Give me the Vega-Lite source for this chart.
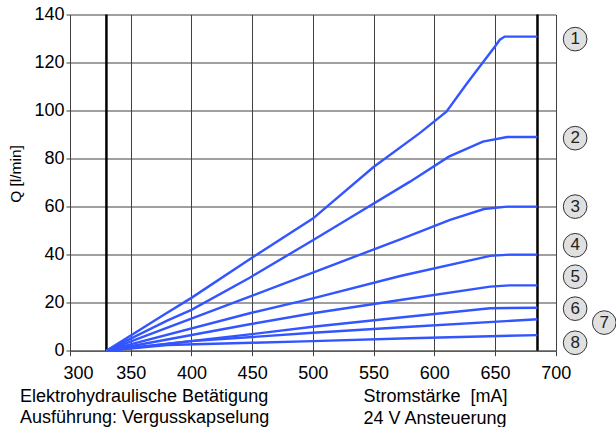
{
  "$schema": "https://vega.github.io/schema/vega-lite/v6.json",
  "width": 485.7,
  "height": 336.2,
  "autosize": {"type": "none"},
  "padding": {"left": 70, "top": 14.5, "right": 60.3, "bottom": 76.3},
  "background": "white",
  "config": {"font": "Liberation Sans", "view": {"stroke": null}},
  "datasets": {
    "curves": [
      {"curve": 1, "mA": 330, "Q": 0}, {"curve": 1, "mA": 378, "Q": 15.2}, {"curve": 1, "mA": 400, "Q": 22}, {"curve": 1, "mA": 448, "Q": 38.1}, {"curve": 1, "mA": 500, "Q": 55}, {"curve": 1, "mA": 550, "Q": 76.5}, {"curve": 1, "mA": 588, "Q": 90.6}, {"curve": 1, "mA": 610, "Q": 99.5}, {"curve": 1, "mA": 627, "Q": 111.4}, {"curve": 1, "mA": 650, "Q": 126.7}, {"curve": 1, "mA": 654, "Q": 129.5}, {"curve": 1, "mA": 658, "Q": 130.8}, {"curve": 1, "mA": 685, "Q": 130.8},
      {"curve": 2, "mA": 330, "Q": 0}, {"curve": 2, "mA": 380, "Q": 12.5}, {"curve": 2, "mA": 400, "Q": 17}, {"curve": 2, "mA": 448, "Q": 30.4}, {"curve": 2, "mA": 500, "Q": 46}, {"curve": 2, "mA": 528, "Q": 54.5}, {"curve": 2, "mA": 580, "Q": 70.4}, {"curve": 2, "mA": 612, "Q": 80.8}, {"curve": 2, "mA": 640, "Q": 87.1}, {"curve": 2, "mA": 660, "Q": 89}, {"curve": 2, "mA": 685, "Q": 89},
      {"curve": 3, "mA": 330, "Q": 0}, {"curve": 3, "mA": 448, "Q": 22.5}, {"curve": 3, "mA": 500, "Q": 32.5}, {"curve": 3, "mA": 572, "Q": 46.4}, {"curve": 3, "mA": 613, "Q": 54.5}, {"curve": 3, "mA": 641, "Q": 59}, {"curve": 3, "mA": 660, "Q": 60}, {"curve": 3, "mA": 685, "Q": 60},
      {"curve": 4, "mA": 330, "Q": 0}, {"curve": 4, "mA": 448, "Q": 15.6}, {"curve": 4, "mA": 500, "Q": 21.8}, {"curve": 4, "mA": 572, "Q": 31.1}, {"curve": 4, "mA": 646, "Q": 39.5}, {"curve": 4, "mA": 662, "Q": 40}, {"curve": 4, "mA": 685, "Q": 40},
      {"curve": 5, "mA": 330, "Q": 0}, {"curve": 5, "mA": 448, "Q": 11}, {"curve": 5, "mA": 500, "Q": 15.6}, {"curve": 5, "mA": 572, "Q": 21.1}, {"curve": 5, "mA": 646, "Q": 26.7}, {"curve": 5, "mA": 662, "Q": 27.2}, {"curve": 5, "mA": 685, "Q": 27.2},
      {"curve": 6, "mA": 330, "Q": 0}, {"curve": 6, "mA": 448, "Q": 6.8}, {"curve": 6, "mA": 500, "Q": 10}, {"curve": 6, "mA": 572, "Q": 13.8}, {"curve": 6, "mA": 646, "Q": 17.7}, {"curve": 6, "mA": 685, "Q": 17.9},
      {"curve": 7, "mA": 330, "Q": 0}, {"curve": 7, "mA": 400, "Q": 4}, {"curve": 7, "mA": 450, "Q": 5.7}, {"curve": 7, "mA": 500, "Q": 7.5}, {"curve": 7, "mA": 580, "Q": 10}, {"curve": 7, "mA": 685, "Q": 13.1},
      {"curve": 8, "mA": 330, "Q": 0}, {"curve": 8, "mA": 380, "Q": 2.4}, {"curve": 8, "mA": 450, "Q": 3.3}, {"curve": 8, "mA": 500, "Q": 4}, {"curve": 8, "mA": 580, "Q": 5.2}, {"curve": 8, "mA": 685, "Q": 6.5}
    ],
    "limits": [{"mA": 330}, {"mA": 685}],
    "labels": [
      {"id": "1", "mA": 716, "Q": 129.75},
      {"id": "2", "mA": 716, "Q": 88.5},
      {"id": "3", "mA": 716, "Q": 60},
      {"id": "4", "mA": 716, "Q": 43.9},
      {"id": "5", "mA": 716, "Q": 30.8},
      {"id": "6", "mA": 716, "Q": 17.5},
      {"id": "7", "mA": 740, "Q": 11.7},
      {"id": "8", "mA": 716, "Q": 3.3}
    ]
  },
  "title": {
    "text": ["Elektrohydraulische Betätigung", "Ausführung: Vergusskapselung"],
    "orient": "bottom",
    "anchor": "start",
    "frame": "group",
    "fontSize": 18,
    "fontWeight": "normal",
    "lineHeight": 21,
    "color": "black",
    "dx": -50,
    "offset": -39
  },
  "layer": [
    {
      "data": {"name": "limits"},
      "mark": {"type": "rule", "color": "black", "strokeWidth": 2.5},
      "encoding": {
        "x": {
          "field": "mA", "type": "quantitative",
          "scale": {"domain": [300, 700], "nice": false, "zero": false},
          "axis": {
            "values": [300, 350, 400, 450, 500, 550, 600, 650, 700],
            "grid": true, "gridColor": "#404040", "gridOpacity": 1, "gridWidth": 1,
            "domainColor": "#404040", "tickColor": "#404040", "tickSize": 5,
            "labelFontSize": 18, "labelColor": "black", "labelPadding": 9, "labelFlush": false,
            "labelOffset": {"condition": {"test": "datum.value == 300", "value": 8}, "value": 0},
            "title": ["Stromstärke \u00a0[mA]", "24 V Ansteuerung"],
            "titleFontSize": 18, "titleFontWeight": "normal", "titleColor": "black",
            "titleX": 293, "titleY": 51, "titleAlign": "left", "titleBaseline": "alphabetic",
            "titleLineHeight": 21.5
          }
        }
      }
    },
    {
      "data": {"name": "curves"},
      "mark": {"type": "line", "color": "#3355ff", "strokeWidth": 2.4, "clip": false},
      "encoding": {
        "x": {"field": "mA", "type": "quantitative"},
        "y": {
          "field": "Q", "type": "quantitative",
          "scale": {"domain": [0, 140], "nice": false},
          "axis": {
            "values": [0, 20, 40, 60, 80, 100, 120, 140],
            "grid": true, "gridColor": "#404040", "gridOpacity": 1, "gridWidth": 1,
            "domainColor": "#404040", "tickColor": "#404040", "tickSize": 4,
            "labelFontSize": 18, "labelColor": "black", "labelPadding": 2, "labelFlush": false,
            "title": "Q [l/min]", "titleFontSize": 15.5, "titleFontWeight": "normal", "titleColor": "black",
            "titleX": -55, "titleY": 159, "titleAlign": "center", "titleBaseline": "middle"
          }
        },
        "detail": {"field": "curve", "type": "nominal"}
      }
    },
    {
      "data": {"name": "labels"},
      "mark": {"type": "point", "shape": "circle", "filled": true, "size": 560, "fill": "#e0e0e0", "stroke": "#333333", "strokeWidth": 1, "opacity": 1, "clip": false},
      "encoding": {
        "x": {"field": "mA", "type": "quantitative"},
        "y": {"field": "Q", "type": "quantitative"}
      }
    },
    {
      "data": {"name": "labels"},
      "mark": {"type": "text", "fontSize": 17, "color": "#222222", "baseline": "middle", "align": "center", "clip": false},
      "encoding": {
        "x": {"field": "mA", "type": "quantitative"},
        "y": {"field": "Q", "type": "quantitative"},
        "text": {"field": "id", "type": "nominal"}
      }
    }
  ]
}
